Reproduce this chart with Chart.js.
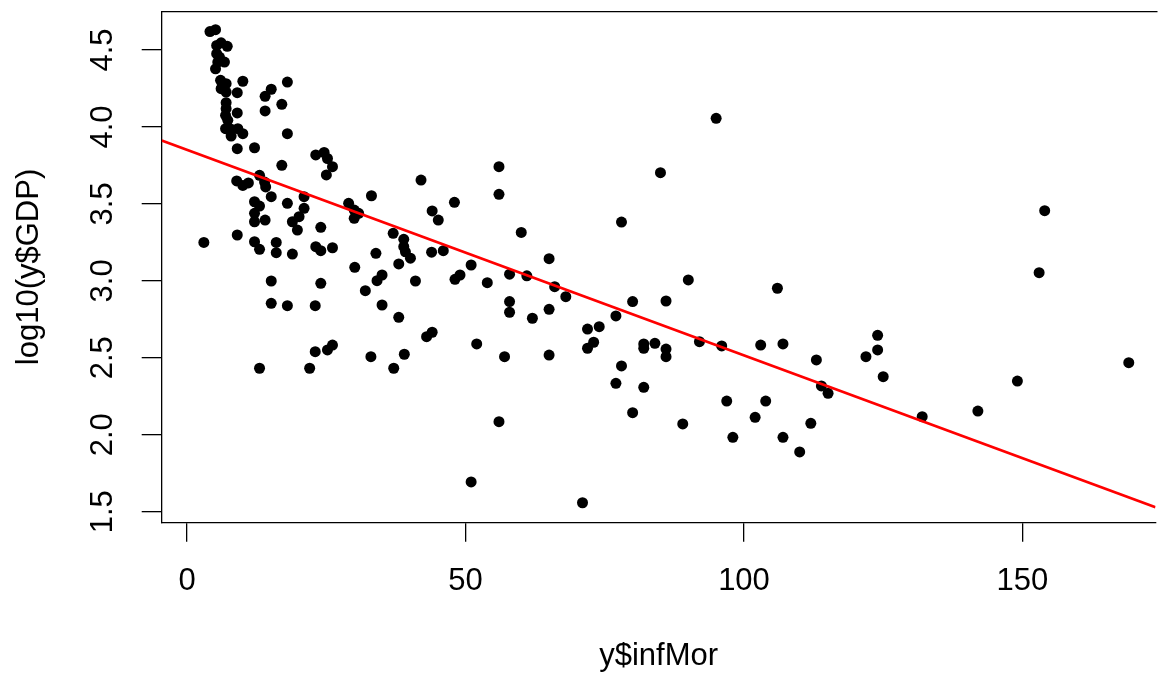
<!DOCTYPE html>
<html>
<head>
<meta charset="utf-8">
<title>log10(y$GDP) vs y$infMor</title>
<script src="https://cdn.jsdelivr.net/npm/chart.js@4.4.1/dist/chart.umd.min.js"></script>
<style>
  html, body { margin: 0; padding: 0; background: #fff; overflow: hidden; }
  #plot { display: block; }
</style>
</head>
<body>
<canvas id="plot" width="1161" height="675"></canvas>
<script>
// Infant mortality (x) and log10 GDP (y), one entry per country
const infMor = [
  4.1, 5.1, 5.3, 6.1, 7.2, 5.3, 5.8, 5.5, 6.7, 5.1,
  6.0, 7.0, 6.1, 7.0, 10.0, 9.0, 7.0, 7.0, 6.9, 7.3,
  9.0, 6.9, 7.9, 9.1, 10.0, 7.9, 9.0, 12.1, 14.0, 15.1,
  18.0, 14.0, 17.0, 18.0, 17.0, 8.9, 10.0, 11.0, 13.0, 13.9,
  14.1, 15.1, 12.1, 13.0, 18.0, 12.1, 12.1, 14.0, 18.9, 19.8,
  9.0, 3.0, 12.1, 13.0, 16.0, 16.0, 18.9, 15.1, 15.1, 18.0,
  13.0, 21.0, 21.0, 20.1, 23.1, 24.6, 25.2, 26.1, 25.0, 42.0,
  24.0, 29.0, 30.0, 30.8, 30.0, 33.1, 48.0, 44.0, 45.1, 23.1,
  24.0, 26.1, 30.1, 33.9, 37.0, 38.9, 38.9, 39.2, 40.1, 38.0,
  43.9, 46.0, 51.0, 53.9, 48.1, 49.0, 41.0, 24.0, 35.0, 34.1,
  32.0, 23.0, 35.0, 38.0, 43.0, 44.0, 52.0, 23.0, 25.2, 26.1,
  22.0, 33.0, 39.0, 37.1, 51.0, 56.0, 56.0, 85.0, 78.0, 60.0,
  65.0, 57.9, 61.0, 66.0, 68.0, 90.0, 57.9, 57.9, 62.0, 65.0,
  80.0, 86.0, 77.0, 71.9, 74.0, 73.0, 71.9, 57.0, 65.0, 82.0,
  82.0, 84.0, 86.0, 86.0, 92.0, 78.0, 77.0, 82.0, 80.0, 89.0,
  56.0, 71.0, 95.0, 106.0, 96.0, 103.0, 107.0, 124.0, 124.0, 121.9,
  113.0, 125.0, 113.9, 115.1, 96.9, 103.9, 102.0, 112.0, 98.0, 107.0,
  110.0, 154.0, 153.0, 169.1, 149.1, 142.0, 132.0
];
const logGDP = [
  4.620, 4.632, 4.530, 4.547, 4.524, 4.476, 4.454, 4.422, 4.422, 4.378,
  4.303, 4.281, 4.249, 4.227, 4.297, 4.223, 4.158, 4.119, 4.076, 4.043,
  4.091, 3.989, 3.985, 3.989, 3.956, 3.941, 3.859, 3.865, 4.199, 4.245,
  4.292, 4.104, 4.147, 3.956, 3.751, 3.649, 3.620, 3.636, 3.686, 3.642,
  3.610, 3.547, 3.514, 3.486, 3.504, 3.439, 3.384, 3.395, 3.384, 3.330,
  3.298, 3.250, 3.254, 3.205, 3.250, 3.183, 3.174, 2.999, 2.854, 2.839,
  2.432, 3.547, 3.471, 3.417, 3.818, 3.834, 3.795, 3.742, 3.688, 3.655,
  3.348, 3.504, 3.460, 3.439, 3.406, 3.553, 3.510, 3.454, 3.395, 3.222,
  3.196, 3.215, 3.088, 3.179, 3.309, 3.270, 3.222, 3.189, 3.147, 3.110,
  3.186, 3.196, 3.103, 2.988, 3.010, 3.038, 2.999, 2.984, 3.038, 3.001,
  2.936, 2.839, 2.843, 2.763, 2.637, 2.666, 2.590, 2.540, 2.551, 2.583,
  2.432, 2.507, 2.523, 2.432, 1.693, 3.742, 3.562, 3.703, 3.382, 3.315,
  3.144, 3.043, 3.033, 2.962, 2.897, 3.006, 2.865, 2.796, 2.757, 2.815,
  2.865, 2.869, 2.772, 2.687, 2.702, 2.601, 2.562, 2.507, 2.518, 2.590,
  2.562, 2.594, 2.557, 2.507, 2.605, 2.447, 2.334, 2.308, 2.143, 2.070,
  2.085, 1.558, 4.056, 2.952, 2.577, 2.583, 2.590, 2.646, 2.551, 2.507,
  2.486, 2.377, 2.317, 2.269, 2.219, 2.219, 2.113, 2.074, 1.983, 1.983,
  1.888, 3.456, 3.053, 2.468, 2.349, 2.154, 2.117
];

// Least-squares line, given by its ends at the plot edges
const fitX = [-4.57, 173.9];
const fitY = [3.912, 1.529];

const xTicks = [0, 50, 100, 150];
const yTicks = [1.5, 2.0, 2.5, 3.0, 3.5, 4.0, 4.5];
const yTickLabels = ["1.5", "2.0", "2.5", "3.0", "3.5", "4.0", "4.5"];

const FONT = '"Liberation Sans", Arial, Helvetica, sans-serif';
const FONT_SIZE = 31;

// Top edge of the box, rotated y labels and the axis titles
const framePlugin = {
  id: "framePlugin",
  afterDraw(chart) {
    const { ctx, chartArea } = chart;
    const yScale = chart.scales.y;
    ctx.save();
    ctx.strokeStyle = "#000";
    ctx.lineWidth = 1.3;
    ctx.beginPath();
    ctx.moveTo(chartArea.left, chartArea.top);
    ctx.lineTo(chartArea.right + 2, chartArea.top);
    ctx.stroke();

    ctx.fillStyle = "#000";
    ctx.font = FONT_SIZE + "px " + FONT;
    ctx.textAlign = "center";
    ctx.textBaseline = "middle";

    yTicks.forEach((v, i) => {
      const py = yScale.getPixelForValue(v);
      ctx.save();
      ctx.translate(103, py);
      ctx.rotate(-Math.PI / 2);
      ctx.fillText(yTickLabels[i], 0, 0);
      ctx.restore();
    });

    ctx.save();
    ctx.translate(29, (chartArea.top + chartArea.bottom) / 2);
    ctx.rotate(-Math.PI / 2);
    ctx.fillText("log10(y$GDP)", 0, 0);
    ctx.restore();

    ctx.fillText("y$infMor", (chartArea.left + chartArea.right) / 2, 656);
    ctx.restore();
  }
};

const points = infMor.map((x, i) => ({ x: x, y: logGDP[i] }));
const fitLine = fitX.map((x, i) => ({ x: x, y: fitY[i] }));

new Chart(document.getElementById("plot"), {
  type: "scatter",
  data: {
    datasets: [
      {
        data: fitLine,
        showLine: true,
        borderColor: "#ff0000",
        borderWidth: 2.8,
        pointRadius: 0,
        order: 0
      },
      {
        data: points,
        backgroundColor: "#000",
        borderWidth: 0,
        pointRadius: 5.5,
        order: 1
      }
    ]
  },
  options: {
    responsive: false,
    animation: false,
    events: [],
    layout: { padding: { top: 11.7, left: 0, right: 0, bottom: 0 } },
    plugins: { legend: { display: false }, tooltip: { enabled: false } },
    scales: {
      x: {
        type: "linear",
        min: -4.57,
        max: 173.9,
        afterBuildTicks: (scale) => { scale.ticks = xTicks.map((v) => ({ value: v })); },
        afterFit: (scale) => { scale.height = 152.7; },
        grid: { drawOnChartArea: false, drawTicks: true, tickLength: 19.4, color: "#000", lineWidth: 1.3 },
        border: { display: true, color: "#000", width: 1.3 },
        ticks: {
          color: "#000",
          padding: 20.7,
          font: { family: FONT, size: FONT_SIZE },
          maxRotation: 0,
          callback: (v) => String(v)
        }
      },
      y: {
        type: "linear",
        min: 1.431,
        max: 4.749,
        afterBuildTicks: (scale) => { scale.ticks = yTicks.map((v) => ({ value: v })); },
        afterFit: (scale) => { scale.width = 161.7; },
        grid: { drawOnChartArea: false, drawTicks: true, tickLength: 20, color: "#000", lineWidth: 1.3 },
        border: { display: true, color: "#000", width: 1.3 },
        ticks: { display: false }
      }
    }
  },
  plugins: [framePlugin]
});
</script>
</body>
</html>
